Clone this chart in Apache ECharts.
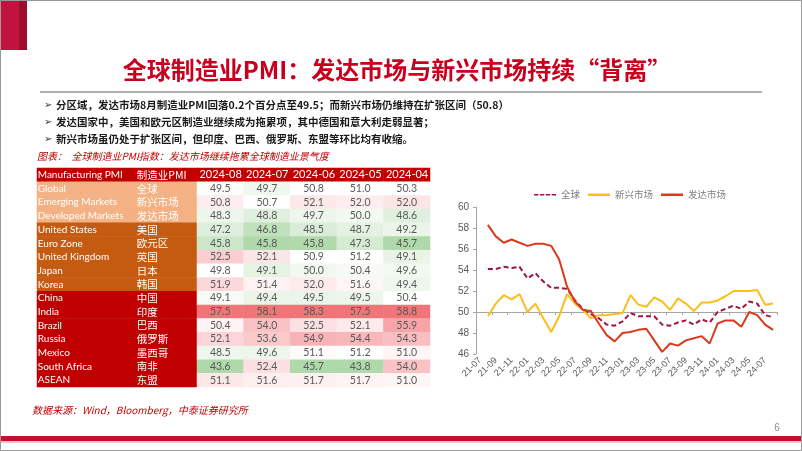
<!DOCTYPE html>
<html><head><meta charset="utf-8">
<script src="https://cdn.jsdelivr.net/npm/echarts@6/dist/echarts.min.js"></script>
<style>html,body{margin:0;padding:0;background:#fff}#c{width:802px;height:451px}</style>
</head><body><div id="c"></div>
<script>
// ---------- table data ----------
const months = ['2024-08','2024-07','2024-06','2024-05','2024-04'];
const regionsEn = ['Global','Emerging Markets','Developed Markets','United States','Euro Zone','United Kingdom','Japan','Korea','China','India','Brazil','Russia','Mexico','South Africa','ASEAN'];
const regionsCn = ['全球','新兴市场','发达市场','美国','欧元区','英国','日本','韩国','中国','印度','巴西','俄罗斯','墨西哥','南非','东盟'];
const headerEn = 'Manufacturing PMI';
const headerCn = '制造业PMI';
const pmi202408 = [49.5,50.8,48.3,47.2,45.8,52.5,49.8,51.9,49.1,57.5,50.4,52.1,48.5,43.6,51.1];
const pmi202407 = [49.7,50.7,48.8,46.8,45.8,52.1,49.1,51.4,49.4,58.1,54.0,53.6,49.6,52.4,51.6];
const pmi202406 = [50.8,52.1,49.7,48.5,45.8,50.9,50.0,52.0,49.5,58.3,52.5,54.9,51.1,45.7,51.7];
const pmi202405 = [51.0,52.0,50.0,48.7,47.3,51.2,50.4,51.6,49.5,57.5,52.1,54.4,51.2,43.8,51.7];
const pmi202404 = [50.3,52.0,48.6,49.2,45.7,49.1,49.6,49.4,50.4,58.8,55.9,54.3,51.0,54.0,51.0];
const regionGroup = [1,1,1,2,2,2,2,2,3,3,3,3,3,3,3];

// ---------- line chart data ----------
const lineMonths = ['21-07','21-08','21-09','21-10','21-11','21-12','22-01','22-02','22-03','22-04','22-05','22-06','22-07','22-08','22-09','22-10','22-11','22-12','23-01','23-02','23-03','23-04','23-05','23-06','23-07','23-08','23-09','23-10','23-11','23-12','24-01','24-02','24-03','24-04','24-05','24-06','24-07','24-08'];
const globalPMI = [null,54.1,54.1,54.3,54.2,54.3,53.2,53.7,52.9,52.3,52.3,52.2,51.1,50.3,49.8,49.4,48.8,48.7,49.1,49.9,49.6,49.6,49.6,48.8,48.7,49.0,49.2,48.8,49.3,49.0,50.0,50.3,50.6,50.3,51.0,50.8,49.7,49.5];
const emergingPMI = [null,49.6,50.8,51.6,51.2,51.7,50.0,50.8,49.4,48.1,49.6,51.7,50.8,50.2,49.4,49.7,49.7,49.8,49.9,51.6,50.7,50.5,51.4,51.0,50.2,51.3,50.8,50.1,50.9,50.9,51.1,51.5,52.0,52.0,52.0,52.1,50.7,50.8];
const developedPMI = [null,58.3,57.2,56.6,56.9,56.6,56.3,56.5,56.5,56.3,55.0,52.4,51.0,50.2,50.1,48.9,47.8,47.2,48.0,48.1,48.3,48.4,47.3,46.2,47.0,46.8,47.3,47.5,47.7,47.0,48.9,49.2,49.2,48.6,50.0,49.7,48.8,48.3];
const seriesNames = ['全球','新兴市场','发达市场'];

// ---------- build table structures ----------
const groupColors = {0:'#C00000',1:'#F4B183',2:'#C55A11',3:'#C00000'};
const rowIdx = Array.from({length: regionsEn.length + 1}, (_, i) => String(i));
function labelCells(header, names) {
  const out = [{value:[0,0,0], name: header, itemStyle:{color: groupColors[0]}}];
  names.forEach((n, i) => out.push({value:[0,i+1,0], name:n, itemStyle:{color: groupColors[regionGroup[i]]}}));
  return out;
}
const cols = [pmi202408, pmi202407, pmi202406, pmi202405, pmi202404];
const valueCells = [];
cols.forEach((col, c) => {
  const s = col.slice().sort((a,b)=>a-b);
  const mn = s[0], mx = s[s.length-1], md = s[Math.floor(s.length/2)];
  col.forEach((v, r) => {
    const t = v <= md ? 0.5*(v-mn)/((md-mn)||1) : 0.5 + 0.5*(v-md)/((mx-md)||1);
    valueCells.push({value:[c, r+1, t], real: v});
  });
});
const headerCells = months.map((m, c) => ({value:[c,0,0], name:m, itemStyle:{color: groupColors[0]}}));

const chart = echarts.init(document.getElementById('c'), null, {renderer:'canvas'});
const tbl = {top:168, height:219};
const noEmph = {disabled:true};
const cjk = '"Noto Sans CJK SC", sans-serif';
const dashIcon = 'path://M0,0H6V2H0Z M8,0H14V2H8Z M16,0H22V2H16Z M24,0H30V2H24Z';

const option = {
  animation: false,
  backgroundColor: '#ffffff',
  grid: [
    {left:37, top:tbl.top, width:98, height:tbl.height},
    {left:135, top:tbl.top, width:62, height:tbl.height},
    {left:197, top:tbl.top, width:233, height:tbl.height},
    {left:476, top:207, width:301, height:147}
  ],
  xAxis: [
    {gridIndex:0, type:'category', data:['en'], show:false},
    {gridIndex:1, type:'category', data:['cn'], show:false},
    {gridIndex:2, type:'category', data:months, show:false},
    {gridIndex:3, type:'category', data:lineMonths, position:'bottom', boundaryGap:true,
      axisLine:{show:false, onZero:false}, axisTick:{show:false},
      axisLabel:{interval:1, rotate:45, fontSize:9, color:'#595959', margin:5, fontFamily:'Liberation Sans'}},
    {gridIndex:3, type:'category', data:lineMonths, position:'bottom', offset:-42, boundaryGap:true,
      axisLine:{show:true, onZero:false, lineStyle:{color:'#A6A6A6', width:1}},
      axisTick:{show:true, interval:1, length:3, lineStyle:{color:'#A6A6A6'}},
      axisLabel:{show:false}}
  ],
  yAxis: [
    {gridIndex:0, type:'category', data:rowIdx, inverse:true, show:false},
    {gridIndex:1, type:'category', data:rowIdx, inverse:true, show:false},
    {gridIndex:2, type:'category', data:rowIdx, inverse:true, show:false},
    {gridIndex:3, type:'value', min:46, max:60, interval:2,
      axisLine:{show:true, lineStyle:{color:'#A6A6A6'}},
      axisTick:{show:true, length:3, lineStyle:{color:'#A6A6A6'}},
      splitLine:{show:false},
      axisLabel:{fontSize:10, color:'#595959', margin:7, fontFamily:'Liberation Sans'}}
  ],
  visualMap: [{type:'continuous', show:false, seriesIndex:3, dimension:2, min:0, max:1,
    inRange:{color:['#AFD9AA','#FFFFFF','#F17479']}}],
  legend: {
    data: [
      {name: seriesNames[0], icon: dashIcon},
      {name: seriesNames[1], icon: 'rect'},
      {name: seriesNames[2], icon: 'rect'}
    ],
    left:529, top:185, itemWidth:22, itemHeight:2.5, itemGap:8,
    itemStyle:{borderWidth:0},
    textStyle:{color:'#7F7F7F', fontSize:9.5, fontFamily:cjk}
  },
  series: [
    {type:'heatmap', xAxisIndex:0, yAxisIndex:0, data:labelCells(headerEn, regionsEn), emphasis:noEmph,
      label:{show:true, position:'insideLeft', distance:1, color:'#fff', fontSize:10, fontFamily:'Lato', formatter:p=>p.name}},
    {type:'heatmap', xAxisIndex:1, yAxisIndex:1, data:labelCells(headerCn, regionsCn), emphasis:noEmph,
      label:{show:true, position:'insideLeft', distance:2, color:'#fff', fontSize:10.5, fontFamily:cjk, formatter:p=>p.name}},
    {type:'heatmap', xAxisIndex:2, yAxisIndex:2, data:headerCells, emphasis:noEmph,
      label:{show:true, position:'insideRight', distance:2, color:'#fff', fontSize:11, fontFamily:'Lato', formatter:p=>p.name}},
    {type:'heatmap', xAxisIndex:2, yAxisIndex:2, data:valueCells, emphasis:noEmph,
      label:{show:true, color:'#595959', fontSize:10.5, fontFamily:'Lato', formatter:p=>p.data.real.toFixed(1)}},
    {name:seriesNames[0], type:'line', xAxisIndex:3, yAxisIndex:3, data:globalPMI, symbol:'none',
      lineStyle:{color:'#A0153E', width:2, type:[5,3]}, itemStyle:{color:'#A0153E'}},
    {name:seriesNames[1], type:'line', xAxisIndex:3, yAxisIndex:3, data:emergingPMI, symbol:'none',
      lineStyle:{color:'#FBBE1E', width:2}, itemStyle:{color:'#FBBE1E'}},
    {name:seriesNames[2], type:'line', xAxisIndex:3, yAxisIndex:3, data:developedPMI, symbol:'none',
      lineStyle:{color:'#D93A1C', width:2}, itemStyle:{color:'#D93A1C'}}
  ],
  graphic: [
    {type:'rect', shape:{x:0.5,y:0.5,width:801,height:450}, style:{fill:null, stroke:'#9A9A9A', lineWidth:1}, z:100},
    {type:'rect', shape:{x:0,y:0,width:19,height:50}, style:{fill:'#C2123E'}},
    {type:'rect', shape:{x:19,y:0,width:8,height:50}, style:{fill:'#A00C2E'}},
    {type:'text', x:397, y:70, style:{text:'全球制造业PMI：发达市场与新兴市场持续“背离”', align:'center', verticalAlign:'middle',
      font:'bold 24px "Noto Sans CJK SC"', fill:'#C8001E'}},
    {type:'rect', shape:{x:40,y:91,width:722,height:2}, style:{fill:'#AFAFAF'}},
    {type:'text', x:44, y:105, style:{text:'➢', align:'left', verticalAlign:'middle', font:'10px "DejaVu Sans"', fill:'#333'}},
    {type:'text', x:44, y:122, style:{text:'➢', align:'left', verticalAlign:'middle', font:'10px "DejaVu Sans"', fill:'#333'}},
    {type:'text', x:44, y:139, style:{text:'➢', align:'left', verticalAlign:'middle', font:'10px "DejaVu Sans"', fill:'#333'}},
    {type:'text', x:56, y:105, style:{text:'分区域，发达市场8月制造业PMI回落0.2个百分点至49.5；而新兴市场仍维持在扩张区间（50.8）', align:'left', verticalAlign:'middle', font:'bold 10.5px "Noto Sans CJK SC"', fill:'#1A1A1A'}},
    {type:'text', x:56, y:122, style:{text:'发达国家中，美国和欧元区制造业继续成为拖累项，其中德国和意大利走弱显著；', align:'left', verticalAlign:'middle', font:'bold 10.5px "Noto Sans CJK SC"', fill:'#1A1A1A'}},
    {type:'text', x:56, y:139, style:{text:'新兴市场虽仍处于扩张区间，但印度、巴西、俄罗斯、东盟等环比均有收缩。', align:'left', verticalAlign:'middle', font:'bold 10.5px "Noto Sans CJK SC"', fill:'#1A1A1A'}},
    {type:'text', x:37, y:156, style:{text:'图表：  全球制造业PMI指数：发达市场继续拖累全球制造业景气度', align:'left', verticalAlign:'middle', font:'italic 10px "Noto Sans CJK SC"', fill:'#C00000'}},
    {type:'text', x:32, y:410, style:{text:'数据来源：Wind，Bloomberg，中泰证券研究所', align:'left', verticalAlign:'middle', font:'italic 10px "Noto Sans CJK SC"', fill:'#C00000'}},
    {type:'text', x:777, y:428, style:{text:'6', align:'center', verticalAlign:'middle', font:'10px "Liberation Sans"', fill:'#8C8C8C'}},
    {type:'rect', shape:{x:0,y:436,width:802,height:5}, style:{fill:'#C0102F'}},
    {type:'rect', shape:{x:0,y:441,width:802,height:2}, style:{fill:'#F3C3CE'}}
  ]
};
chart.setOption(option);
</script>
</body></html>
